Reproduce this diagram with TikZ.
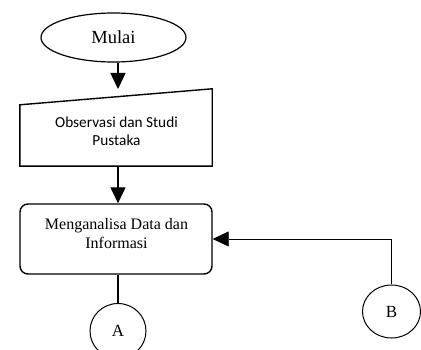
\documentclass[tikz,border=0pt]{standalone}
\usepackage{fontspec}
\setmainfont{Liberation Serif}
\newfontfamily\calfont{Carlito}
\usetikzlibrary{shapes.geometric,arrows.meta,calc}
\begin{document}
\begin{tikzpicture}[x=1pt,y=-1pt,
  box/.style={draw,line width=1.4pt},
  arr/.style={line width=1.4pt,-{Triangle[length=16pt,width=15pt]}},
  thinarr/.style={line width=0.7pt,-{Triangle[length=16pt,width=15pt]}},
  conn/.style={draw,ellipse,line width=1pt,inner sep=0pt,font=\fontsize{17}{20}\selectfont},
  txt/.style={align=center,inner sep=0pt}]
\useasboundingbox (0,0) rectangle (421,350);
\clip (0,0) rectangle (421,350);
% start
\node[draw,ellipse,line width=1.2pt,minimum width=145pt,minimum height=49pt,inner sep=0pt,
  font=\fontsize{18.5}{21}\selectfont] (mulai) at (113.5,37.5) {Mulai};
% manual input
\node[minimum width=192pt,minimum height=61pt,inner sep=0pt] (obs) at (116,135.5) {};
\draw[box,line join=miter] (obs.south west) -- (obs.north west) -- ($(obs.north east)+(0,-16)$) -- (obs.south east) -- cycle;
\node[txt,font=\calfont\fontsize{15.3}{18.5}\selectfont] at (116.5,131) {Observasi dan Studi\\Pustaka};
% process
\node[draw,line width=1.4pt,rounded corners=8pt,minimum width=192pt,minimum height=70pt,inner sep=0pt] (ana) at (116,239) {};
\node[txt,font=\fontsize{16}{19}\selectfont] at (116.5,234) {Menganalisa Data dan\\Informasi};
% connectors
\node[conn,minimum width=56pt,minimum height=55pt] (A) at (118,331) {A};
\node[conn,minimum width=58pt,minimum height=53pt] (B) at (391.5,311.5) {B};
\coordinate (t1) at (118,89);
\coordinate (c2) at (118,0);
\draw[arr] (mulai.south -| t1) -- (t1);
\draw[arr] (obs.south -| c2) -- (ana.north -| c2);
\draw[line width=1.4pt] (ana.south -| c2) -- (A.north);
\draw[thinarr] (B.north) |- (ana.east);
\end{tikzpicture}
\end{document}
